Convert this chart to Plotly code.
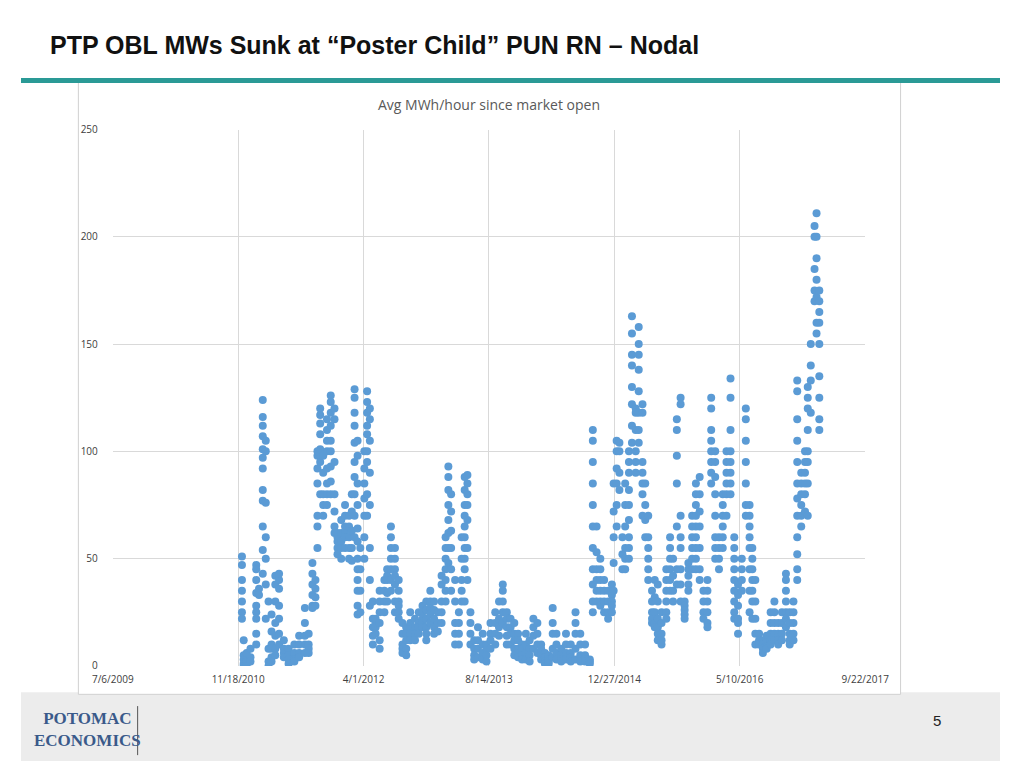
import datetime as dt
import plotly.graph_objects as go

# --- Data: days since 7/6/2009 and the avg MWh/hour values seen at each date ---
START = dt.date(2009, 7, 6)
day_offsets = [515, 522, 534, 549, 572, 583, 598, 610, 621, 633, 648, 663, 682, 701, 724, 743, 766, 781,
               796, 808, 816, 827, 839, 854, 869, 884, 896, 911, 926, 942, 953, 964, 976, 987, 1003, 1014,
               1025, 1037, 1048, 1064, 1083, 1094, 1109, 1125, 1140, 1155, 1170, 1186, 1205, 1220, 1235,
               1250, 1266, 1281, 1296, 1311, 1327, 1338, 1349, 1365, 1380, 1391, 1403, 1414, 1426, 1441,
               1456, 1475, 1490, 1506, 1525, 1540, 1555, 1571, 1586, 1601, 1616, 1632, 1647, 1662, 1677,
               1693, 1708, 1723, 1738, 1754, 1769, 1788, 1807, 1826, 1845, 1864, 1883, 1902, 1914, 1929,
               1944, 1959, 1975, 1990, 1997, 2009, 2020, 2032, 2043, 2058, 2070, 2085, 2097, 2112, 2123,
               2135, 2150, 2161, 2173, 2188, 2207, 2222, 2234, 2249, 2264, 2280, 2295, 2310, 2325, 2340,
               2355, 2371, 2386, 2402, 2417, 2432, 2447, 2463, 2478, 2493, 2508, 2524, 2539, 2550, 2562,
               2577, 2592, 2607, 2623, 2638, 2653, 2668, 2684, 2699, 2714, 2729, 2745, 2760, 2771, 2783,
               2798, 2806, 2817]
mwh_values = [
    [51, 47, 40, 35, 30, 25, 22], [5, 3, 1, 0, 12], [3, 6, 2, 0], [8, 4, 2],
    [47, 45, 40, 34, 28, 25, 22, 15, 10], [36, 33],
    [43, 54, 65, 77, 82, 92, 97, 101, 107, 112, 116, 124], [100, 105, 76, 60, 50, 38, 22],
    [30, 8, 2, 0], [24, 16, 10, 8, 4, 2], [42, 38, 30, 20, 14, 8, 5], [36, 40, 43, 28, 22, 15, 10],
    [12, 8, 6, 4], [8, 5, 3, 1], [10, 6, 3, 2], [14, 10, 6, 4], [27, 20, 14, 10, 6], [15, 10, 8, 6],
    [48, 43, 38, 33, 28, 27], [40, 36, 32, 28], [98, 92, 100, 85, 70, 65, 55],
    [120, 117, 113, 108, 101, 95, 80], [98, 90, 80, 75, 70], [115, 110, 105, 100, 92, 85, 80, 75],
    [126, 123, 118, 112, 105, 100, 93, 86, 80], [120, 115, 95, 80, 72, 65, 62], [62, 60, 58, 55, 52],
    [68, 62, 58, 55, 50], [75, 70, 65, 62, 60, 55], [65, 70, 60, 55, 50], [80, 72, 63, 55, 49],
    [129, 125, 118, 112, 104, 95, 88, 80, 70, 60], [105, 98, 85, 75, 64, 58, 50, 45, 40, 35, 28, 24],
    [55, 45, 35, 25], [100, 92, 85, 78, 70, 60, 50], [128, 123, 118, 112, 108, 100, 95, 80, 70],
    [120, 115, 105, 90, 75, 55, 40, 28], [30, 22, 18, 14, 10], [20, 15, 18, 22],
    [35, 30, 25, 20, 12, 8], [40, 35, 30, 25], [45, 42, 40, 34, 30], [65, 60, 55, 50, 45, 40, 35],
    [55, 50, 45, 42, 38, 30, 25], [40, 35, 30, 28, 25, 22], [20, 15, 10, 8, 6], [18, 15, 12, 8, 5],
    [25, 20, 17, 15, 12], [22, 18, 15, 12], [25, 20, 18, 15], [28, 25, 22, 20, 18],
    [30, 26, 22, 18, 15, 12], [35, 30, 27, 24, 20], [30, 26, 22, 18, 15], [25, 20, 16],
    [38, 42, 30, 25, 20], [60, 55, 50, 45, 40, 35, 30], [93, 88, 82, 75, 68, 62, 55, 48],
    [80, 72, 63, 55, 45, 35], [40, 30, 20, 15, 10], [25, 20, 15, 10], [60, 50, 40, 35, 30],
    [88, 82, 75, 70, 65, 60, 55, 50, 45, 30], [89, 85, 80, 75, 68, 55, 40], [25, 20, 15, 10],
    [12, 8, 5, 3], [18, 12, 8, 4], [15, 10, 6, 3], [10, 8, 5, 2], [20, 15, 12, 8], [25, 20, 15, 10],
    [30, 22, 18, 14], [38, 35, 30, 25, 20], [25, 22, 18, 14, 10], [22, 18, 15, 10], [20, 15, 12, 8, 5],
    [15, 12, 8, 6, 4], [10, 8, 5, 3], [15, 10, 6, 3], [12, 8, 5, 2], [22, 18, 14, 8], [20, 15, 10, 6],
    [10, 8, 5, 3], [6, 4, 2, 1], [5, 3, 2, 1], [27, 20, 15, 8, 4], [15, 10, 6, 3], [8, 5, 3, 2],
    [15, 10, 6, 3], [10, 6, 4, 2], [25, 20, 15, 8, 3], [15, 10, 5, 2], [10, 5, 3, 2], [3, 2, 1],
    [110, 105, 95, 85, 75, 65, 55, 45, 38, 30, 25], [65, 53, 45, 40, 35, 30], [50, 45, 40, 35, 30, 28],
    [40, 35, 30, 25], [35, 30, 25, 22], [38, 33, 30, 28, 25], [85, 72, 60, 48, 35],
    [105, 100, 92, 85, 75, 65], [104, 100, 90, 82], [60, 52, 45], [85, 75, 65, 55, 50, 45],
    [100, 95, 90, 82, 75, 68, 60, 55, 50], [163, 155, 145, 140, 130, 122, 112, 104],
    [120, 118, 110, 100, 95, 90], [158, 150, 145, 138, 128, 118, 110, 104],
    [122, 118, 95, 90, 85, 80, 70], [85, 75, 68, 60], [70, 60, 55, 50, 45, 40], [35, 30, 25, 22, 20],
    [40, 32, 25, 20, 18], [38, 30, 22, 18, 15, 12], [25, 20, 15, 12, 10], [45, 40, 35, 30, 25, 22],
    [60, 55, 50, 45, 40, 35], [50, 42, 35, 30], [115, 110, 98, 85, 65, 45, 38],
    [125, 122, 70, 60, 55, 45, 38, 30], [30, 28, 26, 24, 22], [48, 45, 42, 38, 35],
    [70, 65, 60, 55, 50, 45], [85, 80, 75, 70, 65, 60, 55, 50, 45], [88, 80, 72, 65, 55, 45, 40],
    [35, 30, 25, 22], [40, 35, 30, 25, 20, 18], [125, 120, 110, 105, 100, 95, 90, 85],
    [100, 95, 88, 80, 70, 60, 55, 50], [60, 55, 50, 45], [80, 75, 70, 65, 60, 55],
    [100, 95, 90, 85, 80, 70], [134, 125, 110, 100, 95, 90, 85, 80],
    [60, 55, 50, 45, 40, 35, 30, 25, 22], [38, 33, 28, 22, 20, 15], [50, 45, 40, 35],
    [120, 115, 105, 95, 85, 75, 70], [75, 70, 65, 60, 55, 45, 35, 25], [55, 50, 45, 40, 35, 30, 22],
    [40, 30, 22, 15, 10], [15, 12, 10], [12, 10, 8, 6], [14, 11, 9, 8], [25, 20, 15, 12, 10],
    [30, 25, 20, 15, 12], [20, 15, 12, 10], [25, 20, 15, 12], [43, 40, 35, 30, 25, 22, 18],
    [25, 20, 15, 12, 10], [30, 25, 20, 15, 12], [128, 133, 115, 105, 95, 85, 78, 70, 60, 52, 45, 40],
    [90, 85, 80, 75, 70, 65], [100, 95, 90, 85, 80, 72], [130, 125, 120, 110, 100, 95, 85, 70],
    [150, 140, 133, 118], [205, 200, 185, 175, 170], [211, 200, 190, 180, 172, 160, 155],
    [175, 170, 165, 160, 150, 135, 125, 115, 110],
]
x_tick_dates = ['2009-07-06', '2010-11-18', '2012-04-01', '2013-08-14', '2014-12-27', '2016-05-10', '2017-09-22']
x_tick_text = ['7/6/2009', '11/18/2010', '4/1/2012', '8/14/2013', '12/27/2014', '5/10/2016', '9/22/2017']

xs, ys = [], []
for d, vals in zip(day_offsets, mwh_values):
    for v in vals:
        xs.append(START + dt.timedelta(days=d))
        ys.append(v)

fig = go.Figure()
fig.add_trace(go.Scatter(x=xs, y=ys, mode='markers',
                         marker=dict(size=8, color='#5b9bd5'), showlegend=False))

# slide decoration
shapes = [
    dict(type='rect', xref='paper', yref='paper', x0=0, x1=1, y0=0, y1=70 / 768,
         fillcolor='#ececec', line_width=0, layer='below'),
    dict(type='rect', xref='paper', yref='paper', x0=60 / 1024, x1=920 / 1024,
         y0=1 - 700 / 768, y1=1 - 76 / 768, fillcolor='white', line=dict(color='#d0d0d0', width=1),
         layer='below'),
    dict(type='line', xref='paper', yref='paper', x0=0, x1=1, y0=1 - 74 / 768, y1=1 - 74 / 768,
         line=dict(color='#2a9a96', width=5)),
    dict(type='line', xref='paper', yref='paper', x0=122 / 1024, x1=122 / 1024,
         y0=1 - 712 / 768, y1=1 - 762 / 768, line=dict(color='#555555', width=1)),
]

fig.update_layout(
    autosize=True, margin=dict(l=0, r=0, t=0, b=0),
    paper_bgcolor='white', plot_bgcolor='white',
    font=dict(family='Open Sans, Arial', color='#595959'),
    shapes=shapes,
    xaxis=dict(domain=[96 / 1024, 883 / 1024], range=['2009-07-06', '2017-09-22'],
               tickvals=x_tick_dates, ticktext=x_tick_text, showgrid=True, gridcolor='#d9d9d9',
               zeroline=False, showline=False, tickfont=dict(size=10, color='#404040'),
               ticklabelstandoff=6),
    yaxis=dict(domain=[1 - 671 / 768, 1 - 124 / 768], range=[0, 250], dtick=50,
               showgrid=True, gridcolor='#d9d9d9', zeroline=False, showline=False,
               tickfont=dict(size=10, color='#404040'), ticklabelstandoff=14),
    annotations=[
        dict(text='<b>PTP OBL MWs Sunk at “Poster Child” PUN RN – Nodal</b>', xref='paper', yref='paper',
             x=28 / 1024, y=1 - 38 / 768, xanchor='left', yanchor='middle', showarrow=False,
             font=dict(family='Liberation Sans, Arial', size=25, color='#111111')),
        dict(text='Avg MWh/hour since market open', xref='paper', yref='paper',
             x=490 / 1024, y=1 - 98 / 768, xanchor='center', yanchor='middle', showarrow=False,
             font=dict(size=14, color='#595959')),
        dict(text='<b>POTOMAC<br>ECONOMICS</b>', xref='paper', yref='paper',
             x=70 / 1024, y=1 - 736 / 768, xanchor='center', yanchor='middle', showarrow=False,
             font=dict(family='Liberation Serif, serif', size=17, color='#3a5a8a')),
        dict(text='5', xref='paper', yref='paper', x=958 / 1024, y=1 - 727 / 768,
             xanchor='center', yanchor='middle', showarrow=False,
             font=dict(family='Liberation Sans, Arial', size=15, color='#222222')),
    ],
)

fig.write_html(
    "out.html",
    config={'displayModeBar': False, 'responsive': True},
    default_width='100vw', default_height='100vh',
    post_script="document.body.style.margin='0';document.body.style.overflow='hidden';"
                "document.documentElement.style.overflow='hidden';",
)
